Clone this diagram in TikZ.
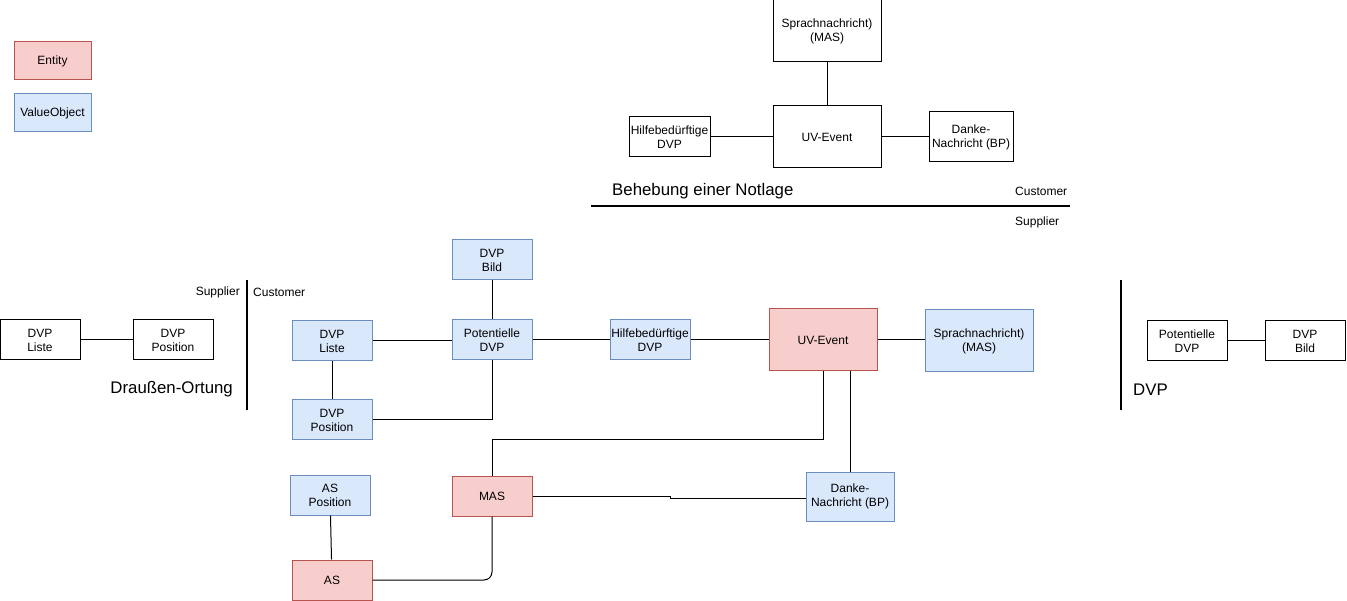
\documentclass[tikz,border=0pt]{standalone}
\usepackage{fontspec}
\setmainfont{Liberation Sans}
\usepackage{tikz}
\usetikzlibrary{positioning}
\definecolor{entfill}{HTML}{F8CECC}
\definecolor{entline}{HTML}{B85450}
\definecolor{vofill}{HTML}{DAE8FC}
\definecolor{voline}{HTML}{6C8EBF}
\tikzset{
  box/.style={draw, line width=1pt, minimum width=80pt, minimum height=40pt,
    inner sep=1pt, align=center, font=\fontsize{12}{14}\selectfont},
  entity/.style={box, draw=entline, fill=entfill},
  valobj/.style={box, draw=voline, fill=vofill},
  plain/.style={box, draw=black, fill=white},
  wide/.style={minimum width=108pt, minimum height=62pt},
  link/.style={line width=1pt},
  divider/.style={line width=2pt},
  ctxlabel/.style={inner sep=0pt, font=\fontsize{16.8}{19}\selectfont},
  sidelabel/.style={inner sep=0pt, font=\fontsize{12}{14}\selectfont},
}

\begin{document}
\begin{tikzpicture}[x=1pt, y=-1pt]
\useasboundingbox (0,0) rectangle (1347,601);

% legend
\node[entity, minimum width=77pt, minimum height=38pt] (legEnt) at (52.5,61) {Entity};
\node[valobj, minimum width=77pt, minimum height=38pt] (legVo) at (52.5,113) {ValueObject};

% Behebung einer Notlage
\node[plain, wide] (topSprach) at (827,31) {Sprachnachricht)\\(MAS)};
\node[plain, wide] (topUV) at (827,137) {UV-Event};
\node[plain, minimum width=81pt] (topHilfe) at (669.5,137) {Hilfebedürftige\\DVP};
\node[plain, minimum width=84pt, minimum height=50pt] (topDanke) at (971,137) {Danke-\\Nachricht (BP)};

\draw[link] (topSprach) -- (topUV);
\draw[link] (topHilfe) -- (topUV);
\draw[link] (topUV) -- (topDanke);

\node[ctxlabel, anchor=west] (lblNotlage) at (612,191) {Behebung einer Notlage};
\node[sidelabel, anchor=west] (lblCustTop) at (1015,191) {Customer};
\node[sidelabel, anchor=west] (lblSuppTop) at (1015,222) {Supplier};
\coordinate (divTopL) at (591,206);
\coordinate (divTopR) at (1070,206);
\draw[divider] (divTopL) -- (divTopR);

% Draussen-Ortung
\node[plain] (lList) at (40,340) {DVP\\Liste};
\node[plain] (lPos) at (173,340) {DVP\\Position};
\draw[link] (lList) -- (lPos);

\node[ctxlabel, anchor=east] (lblOrtung) at (233,389) {Draußen-Ortung};
\node[sidelabel, anchor=east] (lblSuppL) at (240,292) {Supplier};
\node[sidelabel, anchor=west] (lblCustL) at (253,292) {Customer};
\coordinate (divLT) at (247,280);
\coordinate (divLB) at (247,410);
\draw[divider] (divLT) -- (divLB);

% core
\node[valobj] (bList) at (332,341) {DVP\\Liste};
\node[valobj] (bPot) at (492,340) {Potentielle\\DVP};
\node[valobj] (bBild) at (492,260) {DVP\\Bild};
\node[valobj] (bHilfe) at (650,340) {Hilfebedürftige\\DVP};
\node[entity, wide] (bUV) at (823,340) {UV-Event};
\node[valobj, wide] (bSprach) at (979,341) {Sprachnachricht)\\(MAS)};
\node[valobj] (bDvpPos) at (332,420) {DVP\\Position};
\node[valobj] (asPos) at (330,495) {AS\\Position};
\node[entity] (mas) at (492,496) {MAS};
\node[entity] (as) at (332,580) {AS};
\node[valobj, minimum width=88pt, minimum height=49pt] (bDanke) at (850,496.5) {Danke-\\Nachricht (BP)};

\draw[link] (bBild) -- (bPot);
\draw[link] (bList.east) -- (bList.east -| bPot.west);
\draw[link] (bList) -- (bDvpPos);
\draw[link] (bDvpPos) -| (bPot);
\draw[link] (bPot) -- (bHilfe);
\draw[link] (bHilfe) -- (bUV);
\draw[link] (bUV.east) -- (bUV.east -| bSprach.west);

\coordinate (masUp) at (492,440);
\draw[link] (mas.north) -- (masUp) -| (bUV.south);
\draw[link] ([xshift=27pt]bUV.south) -- (bDanke.north);
\coordinate (masJogA) at (670,496);
\coordinate (masJogB) at (670,498);
\draw[link] (mas.east) -- (masJogA) -- (masJogB) -- (masJogB -| bDanke.west);
\draw[link, rounded corners=8pt] (as.east) -| (mas.south);
\draw[link] (asPos) -- (as);

% DVP
\node[plain] (rPot) at (1187,341) {Potentielle\\DVP};
\node[plain] (rBild) at (1305,341) {DVP\\Bild};
\draw[link] (rPot) -- (rBild);

\node[ctxlabel, anchor=west] (lblDvp) at (1133,390) {DVP};
\coordinate (divRT) at (1121,280);
\coordinate (divRB) at (1121,410);
\draw[divider] (divRT) -- (divRB);
\end{tikzpicture}
\end{document}
